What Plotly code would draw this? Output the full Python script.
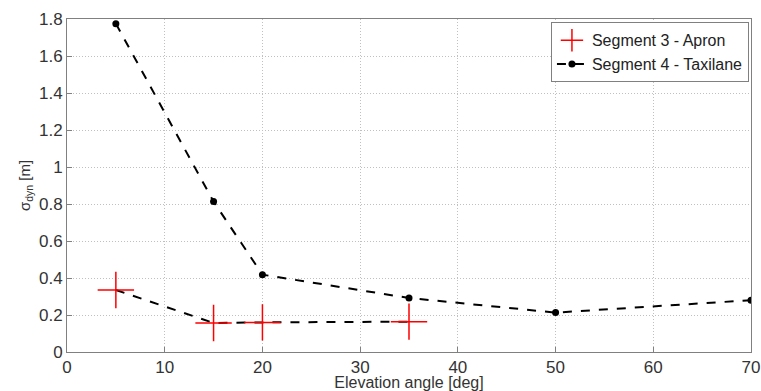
import plotly.graph_objects as go

seg3_x = [5, 15, 20, 35]
seg3_y = [0.335, 0.157, 0.16, 0.164]
seg4_x = [5, 15, 20, 35, 50, 70]
seg4_y = [1.775, 0.813, 0.418, 0.292, 0.213, 0.28]

x_ticks = [0, 10, 20, 30, 40, 50, 60, 70]
y_ticks = [0, 0.2, 0.4, 0.6, 0.8, 1, 1.2, 1.4, 1.6, 1.8]
y_labels = ["0", "0.2", "0.4", "0.6", "0.8", "1", "1.2", "1.4", "1.6", "1.8"]

fig = go.Figure()
fig.add_trace(go.Scatter(x=seg3_x, y=seg3_y, mode="lines", showlegend=False,
                         line=dict(color="black", dash="dash", width=2)))
fig.add_trace(go.Scatter(x=seg3_x, y=seg3_y, mode="markers", name="Segment 3 - Apron",
                         marker=dict(symbol="cross-thin", size=26, color="red",
                                     line=dict(color="red", width=1.5))))
fig.add_trace(go.Scatter(x=seg4_x, y=seg4_y, mode="lines+markers", name="Segment 4 - Taxilane",
                         line=dict(color="black", dash="dash", width=2),
                         marker=dict(symbol="circle", size=7, color="black")))

axis_common = dict(showline=True, linecolor="#808080", linewidth=1, mirror=True,
                   ticks="inside", ticklen=5, tickcolor="#808080",
                   showgrid=True, gridcolor="#c0c0c0", griddash="1px,2px", gridwidth=1,
                   zeroline=False, automargin=False,
                   tickfont=dict(size=17, color="#333333"))

fig.update_layout(
    width=761, height=391,
    margin=dict(l=67, r=10, t=19, b=39),
    plot_bgcolor="white", paper_bgcolor="white",
    font=dict(family="Liberation Sans, Arial, sans-serif", color="#333333"),
    xaxis=dict(range=[0, 70], tickvals=x_ticks, **axis_common,
               title=dict(text="Elevation angle [deg]", font=dict(size=16), standoff=0)),
    yaxis=dict(range=[0, 1.8], tickvals=y_ticks, ticktext=y_labels, **axis_common,
               title=dict(text="σ<sub>dyn</sub> [m]", font=dict(size=15), standoff=4)),
    legend=dict(x=0.997, y=0.99, xanchor="right", yanchor="top",
                bgcolor="white", bordercolor="#808080", borderwidth=1,
                font=dict(size=16, color="#222222"), tracegroupgap=0,
                itemwidth=30),
)

# remove the default page margin so the figure fills the window exactly
fig.write_html("out.html",
               config={"displayModeBar": False},
               post_script="document.body.style.margin='0';document.body.style.overflow='hidden';")
